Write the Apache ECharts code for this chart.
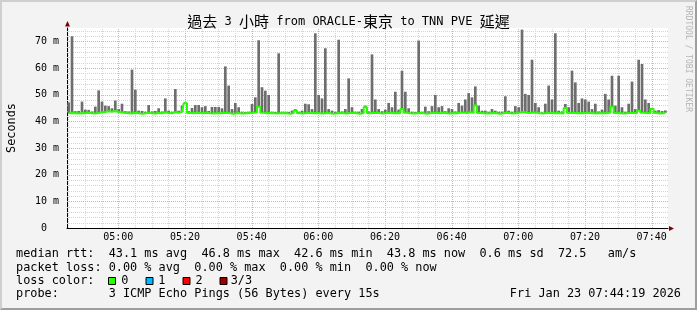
<!DOCTYPE html>
<html><head><meta charset="utf-8">
<script src="https://cdn.jsdelivr.net/npm/echarts@6/dist/echarts.min.js"></script>
<style>
html,body{margin:0;padding:0;background:#f3f3f3;}
#wrap{position:relative;width:697px;height:310px;overflow:hidden;}
#chart{width:697px;height:310px;}
#frame{position:absolute;left:0;top:0;width:697px;height:310px;box-sizing:border-box;border-top:2px solid #cfcfcf;border-left:2px solid #cfcfcf;border-bottom:2px solid #9e9e9e;border-right:2px solid #9e9e9e;pointer-events:none;}
</style></head>
<body><div id="wrap"><div id="chart"></div><div id="frame"></div></div>
<script>
// time window in minutes of the day (04:44:36 .. 07:44:54), one sample per minute
const startMin = 284.6;
const endMin = 464.9;
const stepMin = 1;

// max ping of each sample (ms) - top of the grey smoke
const maxRtt = [
  47.1,71.9,43.8,43.9,47.4,44.4,44.3,43.7,45.5,51.6,
  47.4,45.9,45.7,44.9,47.8,44.6,46.6,43.8,43.7,59.4,
  51.9,44.0,43.9,43.6,46.1,43.7,43.9,44.9,43.7,48.6,
  44.0,43.6,52.1,44.0,45.9,47.1,43.8,45.0,46.1,46.1,
  45.3,45.7,43.9,45.4,45.4,45.4,44.9,60.6,53.4,44.6,
  46.9,45.3,43.6,43.5,43.6,46.5,49.0,70.4,52.8,51.5,
  49.9,43.6,43.5,65.5,43.6,43.6,43.5,44.0,44.6,43.6,
  44.0,46.6,46.4,44.6,73.0,49.9,48.6,67.4,44.6,44.0,
  43.6,70.6,43.7,44.6,56.1,45.3,43.6,43.6,44.6,45.9,
  43.7,65.1,48.2,44.6,43.8,44.4,46.9,45.3,51.1,44.4,
  59.0,51.1,44.9,43.6,43.5,70.3,43.6,45.5,43.8,45.7,
  49.9,45.3,45.7,43.8,44.9,44.6,43.7,46.9,45.9,48.2,
  50.6,49.0,53.1,45.9,44.0,44.0,43.6,44.6,44.0,43.6,
  43.6,49.4,44.0,43.6,45.7,45.3,74.4,50.3,49.9,63.1,
  46.9,45.3,43.4,46.6,53.4,48.2,73.0,44.0,43.7,46.5,
  45.3,59.0,54.6,46.9,48.6,48.2,47.4,44.6,46.6,43.7,
  44.4,50.3,48.2,57.1,45.9,57.1,45.3,43.6,46.6,54.9,
  44.6,63.1,61.5,48.2,46.9,45.0,44.0,44.2,43.9,44.1
];

// median rtt of each sample (ms) - green line
const medianRtt = [
  43.0,43.1,43.0,42.9,43.1,43.0,43.2,43.0,42.9,43.1,
  43.4,43.5,43.8,43.6,43.9,43.5,43.3,43.1,43.0,42.9,
  43.1,43.0,42.8,43.0,43.2,43.0,42.9,43.1,43.0,43.3,
  43.1,43.0,43.4,43.2,43.5,46.8,43.1,43.0,43.2,43.1,
  43.0,43.2,43.0,42.9,43.1,43.0,43.2,43.1,43.0,42.8,
  43.1,43.0,42.9,43.0,43.1,43.2,43.3,45.5,43.2,43.0,
  43.1,43.0,42.9,43.0,43.1,43.0,42.8,43.1,44.1,43.0,
  42.9,43.1,43.2,43.0,43.1,43.0,42.9,43.1,43.0,42.8,
  43.0,43.1,43.0,42.9,43.1,43.2,43.0,42.8,43.1,45.3,
  43.0,43.1,43.2,43.0,42.9,43.1,43.2,43.0,43.1,43.0,
  44.6,43.2,43.0,42.9,43.0,43.1,43.0,42.8,43.0,43.2,
  43.1,43.0,43.2,43.0,42.9,43.1,43.0,43.2,43.3,43.1,
  43.4,43.2,45.9,43.1,43.0,42.9,43.0,43.1,43.0,42.8,
  43.0,43.2,43.0,42.9,43.1,43.3,43.5,43.2,43.1,43.3,
  43.2,43.0,42.9,43.1,43.2,43.0,43.1,43.0,42.9,45.0,
  43.1,43.2,43.0,43.1,43.0,43.2,43.1,43.0,42.9,43.1,
  43.0,43.1,43.2,45.5,43.1,43.0,42.9,43.0,43.1,43.2,
  43.0,44.0,43.2,43.1,43.0,44.6,43.1,42.9,43.0,43.2
];

// axis scale and grid ticks
const yMin = 0, yMax = 75, yLabelStep = 10;
const yMajorTicks = [10, 20, 30, 40, 50, 60, 70];
const yMinorTicks = [2,4,6,8,12,14,16,18,22,24,26,28,32,34,36,38,42,44,46,48,52,54,56,58,62,64,66,68,72,74];
// minutes of the day
const xMajorTicks = [300, 320, 340, 360, 380, 400, 420, 440, 460];
const xMinorTicks = [285,290,295,305,310,315,325,330,335,345,350,355,365,370,375,385,390,395,405,410,415,425,430,435,445,450,455];

const titleText = '{c|過去} 3 {c|小時} from ORACLE-{c|東京} to TNN PVE {c|延遲}';
const legendRows = [
  'median rtt:  43.1 ms avg  46.8 ms max  42.6 ms min  43.8 ms now  0.6 ms sd  72.5   am/s',
  'packet loss: 0.00 % avg  0.00 % max  0.00 % min  0.00 % now',
  'loss color:',
  'probe:       3 ICMP Echo Pings (56 Bytes) every 15s'
];
const lossLabels = ['0', '1', '2', '3/3'];
const lossColors = ['#26ff00', '#00b8ff', '#ff0000', '#a00000'];
const stampText = 'Fri Jan 23 07:44:19 2026';
const creditText = 'RRDTOOL / TOBI OETIKER';

const MONO = "'DejaVu Sans Mono', monospace";
const times = maxRtt.map((_, i) => startMin + stepMin * (i + 0.5));

function fmtTime(v) {
  const r = Math.round(v);
  const h = Math.floor(r / 60), m = r % 60;
  return String(h).padStart(2, '0') + ':' + String(m).padStart(2, '0');
}
function fmtY(v) {
  if (Math.abs(v % yLabelStep) > 1e-6) return '';
  return v === 0 ? '0  ' : v + ' m';
}
const crisp = v => Math.round(v) + 0.5;

const chart = echarts.init(document.getElementById('chart'), null, {renderer: 'canvas'});

const rowY = [254, 267.5, 281, 294];
const graphics = [];
legendRows.forEach((t, i) => {
  graphics.push({type: 'text', x: 16, y: rowY[i], silent: true,
    style: {text: t, fontFamily: MONO, fontSize: 11.85, fill: '#000', align: 'left', verticalAlign: 'middle'}});
});
const boxX = [108, 145.5, 182.5, 219.5];
const lblX = [121.3, 158.3, 195.5, 230.7];
lossLabels.forEach((l, i) => {
  graphics.push({type: 'rect', silent: true, shape: {x: boxX[i] + 0.5, y: 277.5, width: 7, height: 7},
    style: {fill: lossColors[i], stroke: '#000', lineWidth: 1}});
  graphics.push({type: 'text', x: lblX[i], y: rowY[2], silent: true,
    style: {text: l, fontFamily: MONO, fontSize: 11.85, fill: '#000', align: 'left', verticalAlign: 'middle'}});
});
graphics.push({type: 'text', x: 681, y: rowY[3], silent: true,
  style: {text: stampText, fontFamily: MONO, fontSize: 11.85, fill: '#000', align: 'right', verticalAlign: 'middle'}});
graphics.push({type: 'text', x: 688, y: 59, rotation: -Math.PI / 2, silent: true,
  style: {text: creditText, fontFamily: MONO, fontSize: 8, fill: '#b4b4b4', align: 'center', verticalAlign: 'middle'}});

const MINOR = '#d4d4d4', MAJOR = '#f2a0a0';

// grid lines drawn through the axis scales
const xGridData = xMinorTicks.map(v => [v, 0, 0]).concat(xMajorTicks.map(v => [v, 0, 1]));
const yGridData = yMinorTicks.map(v => [startMin, v, 0]).concat(yMajorTicks.map(v => [startMin, v, 1]));

function renderXGrid(params, api) {
  const v = api.value(0);
  const a = api.coord([v, yMin]), b = api.coord([v, yMax]);
  const x = crisp(a[0]);
  return {type: 'line', silent: true,
    shape: {x1: x, y1: a[1], x2: x, y2: b[1]},
    style: {stroke: api.value(2) ? MAJOR : MINOR, lineWidth: 1, lineDash: [1, 1]}};
}
function renderYGrid(params, api) {
  const v = api.value(1);
  const a = api.coord([startMin, v]), b = api.coord([endMin, v]);
  const y = crisp(a[1]);
  return {type: 'line', silent: true,
    shape: {x1: a[0], y1: y, x2: b[0], y2: y},
    style: {stroke: api.value(2) ? MAJOR : MINOR, lineWidth: 1, lineDash: [1, 1]}};
}
function renderSmoke(params, api) {
  const t = api.value(0);
  const lo = api.coord([t, api.value(1)]);
  const hi = api.coord([t, api.value(2)]);
  const w = api.size([stepMin, 0])[0] * 0.8;
  return {type: 'rect', silent: true,
    shape: {x: lo[0] - w / 2, y: hi[1], width: w, height: lo[1] - hi[1]},
    style: {fill: '#6e6e6e'}};
}
function renderArrows(params, api) {
  const xe = api.coord([endMin, yMin]);
  const ye = api.coord([startMin, yMax]);
  const ax = Math.round(xe[0]), ay = crisp(xe[1]);
  const bx = crisp(ye[0]), by = Math.round(ye[1]);
  return {type: 'group', children: [
    {type: 'polygon', silent: true, shape: {points: [[ax + 1, ay - 2.5], [ax + 1, ay + 2.5], [ax + 6, ay]]}, style: {fill: '#7f0000'}},
    {type: 'polygon', silent: true, shape: {points: [[bx - 2.5, by - 1.5], [bx + 2.5, by - 1.5], [bx, by - 7]]}, style: {fill: '#7f0000'}}
  ]};
}

const option = {
  backgroundColor: '#f3f3f3',
  animation: false,
  title: {
    text: titleText, left: 'center', top: 14, padding: 0,
    textStyle: {fontFamily: MONO, fontSize: 12, fontWeight: 'normal', color: '#000',
      rich: {c: {fontFamily: "'Noto Sans CJK TC', sans-serif", fontSize: 15, color: '#000'}}}
  },
  grid: {left: 67, top: 28, width: 601, height: 200, show: true, backgroundColor: '#ffffff', borderWidth: 0,
    containLabel: false, outerBoundsMode: 'none'},
  xAxis: {type: 'value', min: startMin, max: endMin,
    axisLine: {show: true, onZero: false, lineStyle: {color: '#000', width: 1}},
    axisTick: {show: false, customValues: xMajorTicks},
    axisLabel: {customValues: xMajorTicks, formatter: fmtTime, fontFamily: MONO, fontSize: 10, color: '#000', margin: 4},
    splitLine: {show: false}},
  yAxis: {type: 'value', min: yMin, max: yMax, interval: yLabelStep,
    name: 'Seconds', nameLocation: 'middle', nameRotate: 90, nameGap: 49,
    nameTextStyle: {fontFamily: MONO, fontSize: 11.85, color: '#000'},
    axisLine: {show: true, onZero: false, lineStyle: {color: '#000', width: 1}},
    axisTick: {show: false},
    axisLabel: {formatter: fmtY, fontFamily: MONO, fontSize: 10, color: '#000', margin: 8},
    splitLine: {show: false}},
  series: [
    {type: 'custom', name: 'xgrid', renderItem: renderXGrid, data: xGridData, encode: {x: 0, y: 1}, z: 1, silent: true, clip: false},
    {type: 'custom', name: 'ygrid', renderItem: renderYGrid, data: yGridData, encode: {x: 0, y: 1}, z: 1, silent: true, clip: false},
    {type: 'custom', name: 'smoke', renderItem: renderSmoke, data: times.map((t, i) => [t, medianRtt[i], maxRtt[i]]), encode: {x: 0, y: [1, 2]}, z: 2, silent: true},
    {type: 'line', name: 'median rtt', step: 'middle', showSymbol: false, silent: true,
      lineStyle: {color: '#26ff00', width: 2}, z: 5,
      data: times.map((t, i) => [t, medianRtt[i]])},
    {type: 'custom', name: 'arrows', renderItem: renderArrows, data: [[startMin, yMin]], encode: {x: 0, y: 1}, z: 6, silent: true, clip: false}
  ],
  graphic: graphics
};
chart.setOption(option);
</script>
</body></html>
